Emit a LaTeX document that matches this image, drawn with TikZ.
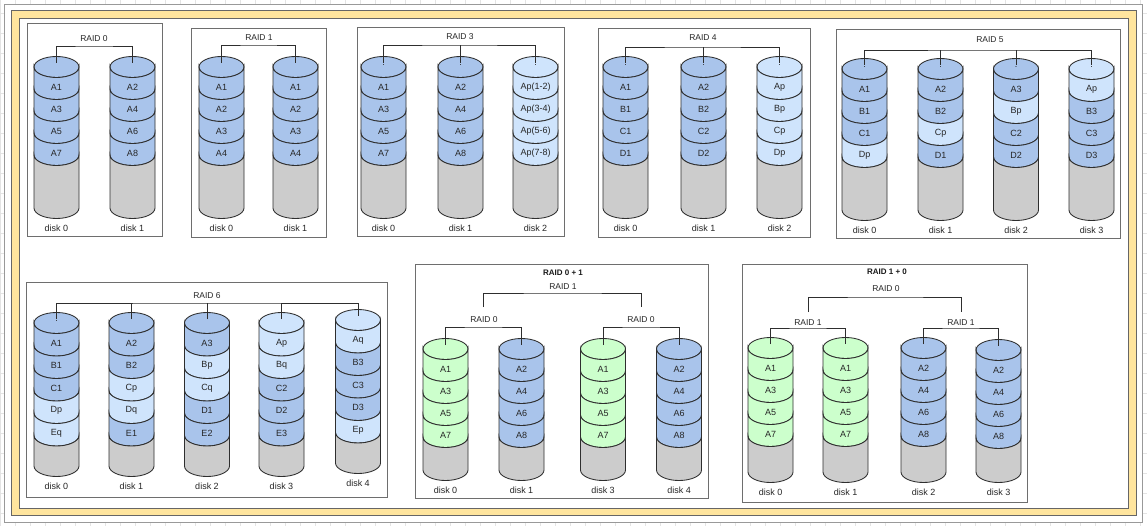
\documentclass[tikz,border=0pt]{standalone}
\usepackage{fontspec}
\setmainfont{Liberation Sans}
\begin{document}
\definecolor{blu}{HTML}{A9C4EB}
\definecolor{lblu}{HTML}{CFE4FC}
\definecolor{grn}{HTML}{CCFFCC}
\definecolor{gry}{HTML}{CCCCCC}
\definecolor{edge}{HTML}{2E2E2E}
\definecolor{frameyel}{HTML}{FFE59E}
\definecolor{gridc}{HTML}{E4E4E4}
\definecolor{boxc}{HTML}{6E6E6E}
\tikzset{
  cyl/.style={draw=edge, line width=0.85pt},
  lbl/.style={inner sep=0pt, font=\fontsize{9}{10}\selectfont, text=black!85},
  rlbl/.style={inner sep=0pt, font=\fontsize{8.5}{10}\selectfont, text=black!85},
  title/.style={inner sep=0pt, font=\bfseries\fontsize{8}{10}\selectfont, text=black!90},
  wire/.style={draw=edge, line width=0.85pt},
  raidbox/.style={draw=boxc, line width=1pt, fill=white},
}
% cylinder geometry (px)
\def\rx{22.5}
\def\ry{10.5}
\def\krx{12.43}
\def\kry{5.8}
% #1 name, #2 centre x, #3 top ellipse centre y, #4 band height,
% #5 y where the sides end, #6 top colour, #7 bands label/colour,
% #8 disk caption, #9 number of bands
\newcommand{\rdisk}[9]{%
  \pgfmathsetmacro\gy{#3+#9*#4}
  \filldraw[cyl, fill=#6] (#2,#3) ellipse [x radius=\rx, y radius=\ry];
  \foreach \lab/\col [count=\i from 0] in {#7} {
    \pgfmathsetmacro\ya{#3+\i*#4}
    \pgfmathsetmacro\yb{#3+(\i+1)*#4}
    \filldraw[cyl, fill=\col]
      (#2-\rx,\ya) .. controls (#2-\rx,\ya+\kry) and (#2-\krx,\ya+\ry) .. (#2,\ya+\ry)
      .. controls (#2+\krx,\ya+\ry) and (#2+\rx,\ya+\kry) .. (#2+\rx,\ya)
      -- (#2+\rx,\yb)
      .. controls (#2+\rx,\yb+\kry) and (#2+\krx,\yb+\ry) .. (#2,\yb+\ry)
      .. controls (#2-\krx,\yb+\ry) and (#2-\rx,\yb+\kry) .. (#2-\rx,\yb) -- cycle;
    \node[lbl] (#1-b\i) at (#2,\ya+\ry+#4/2-1.5) {\lab};
  }
  \filldraw[cyl, fill=gry]
    (#2-\rx,\gy) .. controls (#2-\rx,\gy+\kry) and (#2-\krx,\gy+\ry) .. (#2,\gy+\ry)
    .. controls (#2+\krx,\gy+\ry) and (#2+\rx,\gy+\kry) .. (#2+\rx,\gy)
    -- (#2+\rx,#5)
    .. controls (#2+\rx,#5+\kry) and (#2+\krx,#5+\ry) .. (#2,#5+\ry)
    .. controls (#2-\krx,#5+\ry) and (#2-\rx,#5+\kry) .. (#2-\rx,#5) -- cycle;
  \node[lbl] (#1-cap) at (#2,#5+20) {#8};
  \coordinate (#1) at (#2,#3-4);
}
\newcommand{\diskdot}[3]{\node[lbl] (#1-dot) at (#2,#3-2) {.};}

\begin{tikzpicture}[x=1pt, y=-1pt]
\useasboundingbox (0,0) rectangle (1147,526);
% sheet background with cell grid
\fill[white] (0,0) rectangle (1147,526);
\foreach \gx in {0,15,...,1147} \draw[gridc, line width=0.6pt] (\gx,0) -- (\gx,526);
\foreach \gyy in {13,33,...,526} \draw[gridc, line width=0.6pt] (0,\gyy) -- (1147,\gyy);
\filldraw[fill=white, draw=black!40, line width=0.8pt] (4,4) rectangle (1142,522);
% yellow double frame
\filldraw[fill=frameyel, draw=black!60, line width=1pt, even odd rule]
  (11,11) rectangle (1136,515) (19,19) rectangle (1128,508);

% ---------------- RAID 0
\draw[raidbox] (27,24) rectangle (162,237);
\node[rlbl] (r0lab) at (94,39) {RAID 0};
\coordinate (r0bus) at (94,46);
\rdisk{r0d0}{56.5}{67}{22}{208}{blu}{A1/blu,A3/blu,A5/blu,A7/blu}{disk 0}{4}
\rdisk{r0d1}{132.5}{67}{22}{208}{blu}{A2/blu,A4/blu,A6/blu,A8/blu}{disk 1}{4}
\draw[wire] (r0d0) |- (r0bus) -| (r0d1);

% ---------------- RAID 1
\draw[raidbox] (191,29) rectangle (326,238);
\node[rlbl] (r1lab) at (259,38) {RAID 1};
\coordinate (r1bus) at (259,45);
\rdisk{r1d0}{221.5}{67}{22}{208}{blu}{A1/blu,A2/blu,A3/blu,A4/blu}{disk 0}{4}
\rdisk{r1d1}{295.5}{67}{22}{208}{blu}{A1/blu,A2/blu,A3/blu,A4/blu}{disk 1}{4}
\draw[wire] (r1d0) |- (r1bus) -| (r1d1);

% ---------------- RAID 3
\draw[raidbox] (357,28) rectangle (564,237);
\node[rlbl] (r3lab) at (460,37) {RAID 3};
\coordinate (r3bus) at (460,45);
\rdisk{r3d0}{383.5}{67}{22}{208}{blu}{A1/blu,A3/blu,A5/blu,A7/blu}{disk 0}{4}
\rdisk{r3d1}{460.5}{67}{22}{208}{blu}{A2/blu,A4/blu,A6/blu,A8/blu}{disk 1}{4}
\rdisk{r3d2}{535.5}{67}{22}{208}{lblu}{Ap(1-2)/lblu,Ap(3-4)/lblu,Ap(5-6)/lblu,Ap(7-8)/lblu}{disk 2}{4}
\diskdot{r3d0}{383.5}{67}\diskdot{r3d1}{460.5}{67}\diskdot{r3d2}{535.5}{67}
\draw[wire] (r3d0) |- (r3bus) -| (r3d2);
\draw[wire] (r3d1) -- (r3d1 |- r3bus);

% ---------------- RAID 4
\draw[raidbox] (598,29) rectangle (810,238);
\node[rlbl] (r4lab) at (703,38) {RAID 4};
\coordinate (r4bus) at (703,47);
\rdisk{r4d0}{625.5}{67}{22}{208}{blu}{A1/blu,B1/blu,C1/blu,D1/blu}{disk 0}{4}
\rdisk{r4d1}{703.5}{67}{22}{208}{blu}{A2/blu,B2/blu,C2/blu,D2/blu}{disk 1}{4}
\rdisk{r4d2}{779.5}{67}{22}{208}{lblu}{Ap/lblu,Bp/lblu,Cp/lblu,Dp/lblu}{disk 2}{4}
\diskdot{r4d0}{625.5}{67}\diskdot{r4d1}{703.5}{67}\diskdot{r4d2}{779.5}{67}
\draw[wire] (r4d0) |- (r4bus) -| (r4d2);
\draw[wire] (r4d1) -- (r4d1 |- r4bus);

% ---------------- RAID 5
\draw[raidbox] (836,30) rectangle (1120,239);
\node[rlbl] (r5lab) at (990,40) {RAID 5};
\coordinate (r5bus) at (990,50);
\rdisk{r5d0}{864.5}{69}{22}{210}{blu}{A1/blu,B1/blu,C1/blu,Dp/lblu}{disk 0}{4}
\rdisk{r5d1}{940.5}{69}{22}{210}{blu}{A2/blu,B2/blu,Cp/lblu,D1/blu}{disk 1}{4}
\rdisk{r5d2}{1016}{69}{22}{210}{blu}{A3/blu,Bp/lblu,C2/blu,D2/blu}{disk 2}{4}
\rdisk{r5d3}{1091.5}{69}{22}{210}{lblu}{Ap/lblu,B3/blu,C3/blu,D3/blu}{disk 3}{4}
\diskdot{r5d0}{864.5}{69}\diskdot{r5d1}{940.5}{69}\diskdot{r5d2}{1016}{69}\diskdot{r5d3}{1091.5}{69}
\draw[wire] (r5d0) |- (r5bus) -| (r5d3);
\draw[wire] (r5d1) -- (r5d1 |- r5bus);
\draw[wire] (r5d2) -- (r5d2 |- r5bus);

% ---------------- RAID 6
\draw[raidbox] (26,283) rectangle (387,497);
\node[rlbl] (r6lab) at (207,296) {RAID 6};
\coordinate (r6bus) at (207,303);
\rdisk{r6d0}{56.5}{323}{22.5}{466}{blu}{A1/blu,B1/blu,C1/blu,Dp/lblu,Eq/lblu}{disk 0}{5}
\rdisk{r6d1}{131.5}{323}{22.5}{466}{blu}{A2/blu,B2/blu,Cp/lblu,Dq/lblu,E1/blu}{disk 1}{5}
\rdisk{r6d2}{207}{323}{22.5}{466}{blu}{A3/blu,Bp/lblu,Cq/lblu,D1/blu,E2/blu}{disk 2}{5}
\rdisk{r6d3}{281.5}{323}{22.5}{466}{lblu}{Ap/lblu,Bq/lblu,C2/blu,D2/blu,E3/blu}{disk 3}{5}
\rdisk{r6d4}{358}{320}{22.5}{463}{lblu}{Aq/lblu,B3/blu,C3/blu,D3/blu,Ep/lblu}{disk 4}{5}
\diskdot{r6d0}{56.5}{323}
\draw[wire] (r6d0) |- (r6bus) -| (r6d4);
\draw[wire] (r6d1) -- (r6d1 |- r6bus);
\draw[wire] (r6d2) -- (r6d2 |- r6bus);
\draw[wire] (r6d3) -- (r6d3 |- r6bus);

% ---------------- RAID 0 + 1
\draw[raidbox] (415,265) rectangle (708,498);
\node[title] (r01title) at (563,273) {RAID 0 + 1};
\node[rlbl] (r01lab) at (563,287) {RAID 1};
\coordinate (r01bus) at (563,293);
\node[rlbl] (r01alab) at (484,320) {RAID 0};
\node[rlbl] (r01blab) at (641,320) {RAID 0};
\coordinate (r01abus) at (483.5,327);
\coordinate (r01bbus) at (641,327);
\coordinate (r01atop) at (483.5,307);
\coordinate (r01btop) at (641,307);
\rdisk{r01d0}{445.5}{349}{22}{470}{grn}{A1/grn,A3/grn,A5/grn,A7/grn}{disk 0}{4}
\rdisk{r01d1}{521.5}{349}{22}{470}{blu}{A2/blu,A4/blu,A6/blu,A8/blu}{disk 1}{4}
\rdisk{r01d3}{603}{349}{22}{470}{grn}{A1/grn,A3/grn,A5/grn,A7/grn}{disk 3}{4}
\rdisk{r01d4}{679}{349}{22}{470}{blu}{A2/blu,A4/blu,A6/blu,A8/blu}{disk 4}{4}
\draw[wire] (r01d0) |- (r01abus) -| (r01d1);
\draw[wire] (r01d3) |- (r01bbus) -| (r01d4);
\draw[wire] (r01atop) |- (r01bus) -| (r01btop);

% ---------------- RAID 1 + 0
\draw[raidbox] (742,265) rectangle (1027,502);
\node[title] (r10title) at (887,272) {RAID 1 + 0};
\node[rlbl] (r10lab) at (886,289) {RAID 0};
\coordinate (r10bus) at (886,297);
\node[rlbl] (r10alab) at (808,323) {RAID 1};
\node[rlbl] (r10blab) at (961,323) {RAID 1};
\coordinate (r10abus) at (808,328);
\coordinate (r10bbus) at (961,328);
\coordinate (r10atop) at (808,312);
\coordinate (r10btop) at (961,312);
\rdisk{r10d0}{770.5}{348}{22}{472}{grn}{A1/grn,A3/grn,A5/grn,A7/grn}{disk 0}{4}
\rdisk{r10d1}{845.5}{348}{22}{472}{grn}{A1/grn,A3/grn,A5/grn,A7/grn}{disk 1}{4}
\rdisk{r10d2}{923.5}{348}{22}{472}{blu}{A2/blu,A4/blu,A6/blu,A8/blu}{disk 2}{4}
\rdisk{r10d3}{998.5}{350}{22}{472}{blu}{A2/blu,A4/blu,A6/blu,A8/blu}{disk 3}{4}
\draw[wire] (r10d0) |- (r10abus) -| (r10d1);
\draw[wire] (r10d2) |- (r10bbus) -| (r10d3);
\draw[wire] (r10atop) |- (r10bus) -| (r10btop);
\end{tikzpicture}
\end{document}
